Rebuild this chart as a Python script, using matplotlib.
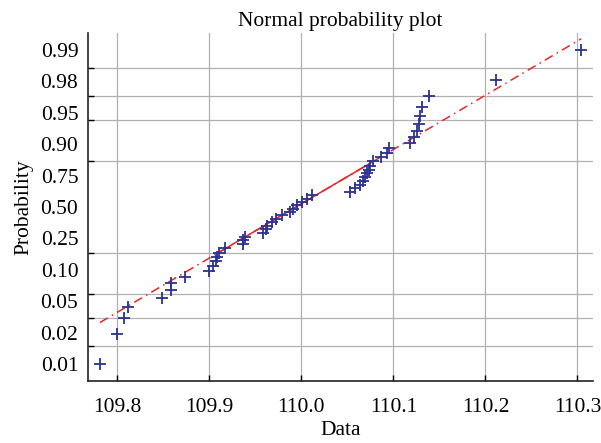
import matplotlib
matplotlib.use("Agg")
import matplotlib.pyplot as plt
import numpy as np
from statistics import NormalDist

# sorted sample values (50 points)
data = [109.781, 109.800, 109.807, 109.812, 109.849, 109.858, 109.858, 109.874, 109.900, 109.904,
        109.907, 109.908, 109.910, 109.917, 109.936, 109.937, 109.939, 109.958, 109.961, 109.963,
        109.968, 109.972, 109.979, 109.988, 109.991, 109.995, 110.001, 110.006, 110.011, 110.053,
        110.058, 110.064, 110.067, 110.069, 110.071, 110.073, 110.075, 110.078, 110.087, 110.093,
        110.095, 110.118, 110.122, 110.126, 110.128, 110.129, 110.131, 110.139, 110.212, 110.304]
prob_labels = ["0.01", "0.02", "0.05", "0.10", "0.25", "0.50", "0.75", "0.90", "0.95", "0.98", "0.99"]
prob_ticks = [0.01, 0.02, 0.05, 0.10, 0.25, 0.50, 0.75, 0.90, 0.95, 0.98, 0.99]
xticks = [109.8, 109.9, 110.0, 110.1, 110.2, 110.3]

nd = NormalDist()
x = np.array(data)
n = len(x)
pp = (np.arange(1, n + 1) - 0.5) / n
z = np.array([nd.inv_cdf(p) for p in pp])
zgrid = [nd.inv_cdf(p) for p in prob_ticks]

plt.rcParams['font.family'] = ['Liberation Serif', 'DejaVu Serif']
fs = 15.5

fig = plt.figure(figsize=(6.01, 4.43), dpi=100)
ax = fig.add_axes([0.1464, 0.140, 0.8403, 0.7855])

# reference line through the quartiles, solid inside, dash-dot outside
q1, q3 = x[12], x[37]
zq1, zq3 = nd.inv_cdf(0.25), nd.inv_cdf(0.75)
slope = (zq3 - zq1) / (q3 - q1)
line = lambda v: zq1 + slope * (v - q1)
ax.plot([x.min(), x.max()], [line(x.min()), line(x.max())], color='#e8262a', lw=1.1, ls=(0, (6, 3, 1, 3)))
ax.plot([q1, q3], [line(q1), line(q3)], color='#e8262a', lw=1.1)

ax.plot(x, z, '+', color='#2b3290', ms=8, mew=1.3, zorder=3)

zlim = nd.inv_cdf(1 - 0.25 / n)
ax.set_ylim(-zlim, zlim)
ax.set_xlim(109.768, 110.317)

ax.set_xticks(xticks, [f"{t:.1f}" for t in xticks])
ax.set_yticks(np.linspace(zgrid[0], zgrid[-1], len(prob_labels)), prob_labels)
ax.set_yticks(zgrid, minor=True)
ax.tick_params(axis='y', which='major', length=0, pad=7, labelsize=fs)
ax.tick_params(axis='y', which='minor', direction='in', length=4, width=1)
ax.tick_params(axis='x', direction='in', length=4, width=1, pad=12, labelsize=fs)

ax.grid(True, axis='x', which='major', color='#b0b0b0', lw=0.9)
ax.grid(True, axis='y', which='minor', color='#b0b0b0', lw=0.9)
ax.set_axisbelow(True)

for s in ['top', 'right']:
    ax.spines[s].set_visible(False)
for s in ['left', 'bottom']:
    ax.spines[s].set_color('#222222')
    ax.spines[s].set_linewidth(1.2)

ax.set_title('Normal probability plot', fontsize=fs, pad=5)
ax.set_xlabel('Data', fontsize=fs, labelpad=3)
ax.set_ylabel('Probability', fontsize=fs, labelpad=5)

fig.savefig('out.png', dpi=100)
